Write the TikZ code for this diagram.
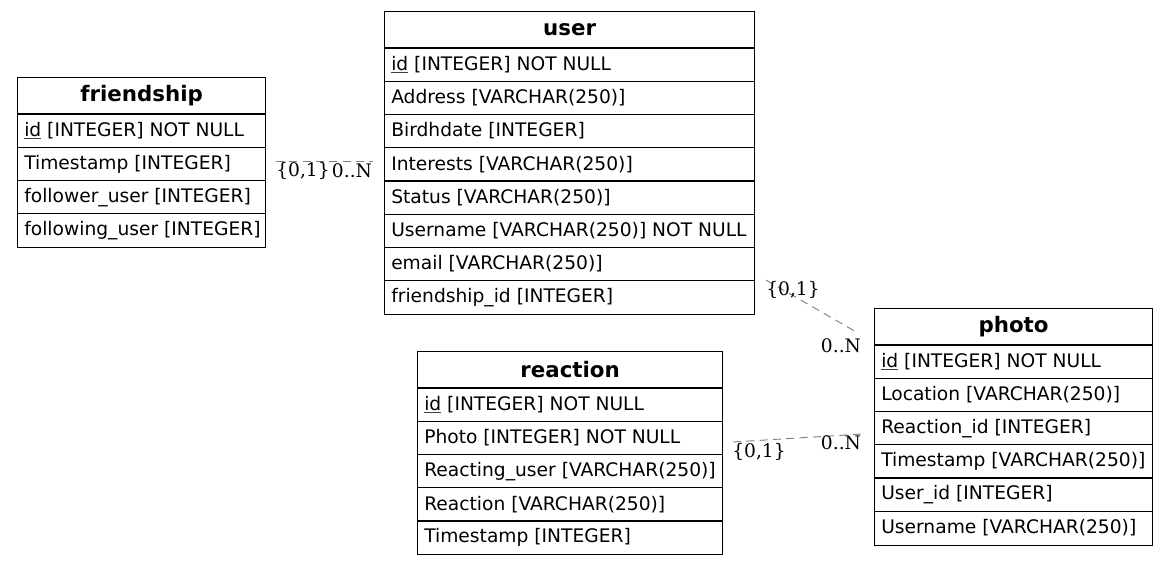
\documentclass[tikz,border=0pt]{standalone}
\usepackage{fontspec}
\setmainfont{DejaVu Sans}
\newfontfamily\lblfont{DejaVu Serif}
\usetikzlibrary{calc}
\newcommand\pkey[1]{{\color{darkgray}\underline{\color{black}#1}}}
\tikzset{
  tbox/.style={draw=black, line width=0.9pt, inner sep=0pt, fill=white},
  hdr/.style={inner sep=0pt, font=\fontsize{16}{19}\selectfont\bfseries},
  rowtxt/.style={inner sep=0pt, anchor=west, font=\fontsize{14}{17}\selectfont},
  hsep/.style={line width=1.5pt},
  rsep/.style={line width=1.1pt},
  conn/.style={draw=gray, line width=0.7pt, dash pattern=on 6pt off 4pt},
  lbl/.style={inner sep=0pt, font=\lblfont\fontsize{14}{17}\selectfont}
}
\newcommand\ertable[7]{%
  \node[tbox, anchor=north west, minimum width=#4*0.75pt, minimum height={(37+33.25*#6)*0.75pt}] (#1) at (#2,#3) {};
  \node[hdr] (#1-title) at ($(#1.north)+(0,18.5)$) {#5};
  \draw[hsep] ($(#1.north west)+(0,37)$) -- ++(#4,0);
  \foreach \t [count=\i] in {#7} {
    \node[rowtxt] (#1-\i) at ($(#1.north west)+(7,{37+33.25*(\i-0.5)})$) {\t};
    \ifnum\i>1 \draw[rsep] ($(#1.north west)+(0,{37+33.25*(\i-1)})$) -- ++(#4,0);\fi
  }
}
\begin{document}
\begin{tikzpicture}[x=0.75pt, y=-0.75pt]
\useasboundingbox (0,0) rectangle (1168,565);
\ertable{friendship}{17}{77}{248}{friendship}{4}{{\pkey{id} [INTEGER] NOT NULL},{Timestamp [INTEGER]},{follower\_user [INTEGER]},{following\_user [INTEGER]}}
\ertable{user}{384}{11}{370}{user}{8}{{\pkey{id} [INTEGER] NOT NULL},{Address [VARCHAR(250)]},{Birdhdate [INTEGER]},{Interests [VARCHAR(250)]},{Status [VARCHAR(250)]},{Username [VARCHAR(250)] NOT NULL},{email [VARCHAR(250)]},{friendship\_id [INTEGER]}}
\ertable{reaction}{417}{351}{305}{reaction}{5}{{\pkey{id} [INTEGER] NOT NULL},{Photo [INTEGER] NOT NULL},{Reacting\_user [VARCHAR(250)]},{Reaction [VARCHAR(250)]},{Timestamp [INTEGER]}}
\ertable{photo}{874}{308}{278}{photo}{6}{{\pkey{id} [INTEGER] NOT NULL},{Location [VARCHAR(250)]},{Reaction\_id [INTEGER]},{Timestamp [VARCHAR(250)]},{User\_id [INTEGER]},{Username [VARCHAR(250)]}}
% connector ends
\coordinate (e1s) at (276,161);
\coordinate (e1t) at (373,161);
\coordinate (e2s) at (766,280);
\coordinate (e2t) at (858,333);
\coordinate (e3s) at (733,442);
\coordinate (e3t) at (862,434);
\draw[conn] (e1s) -- (e1t);
\draw[conn] (e2s) -- (e2t);
\draw[conn] (e3s) -- (e3t);
\node[lbl] (l1a) at (303,171) {\{0,1\}};
\node[lbl] (l1b) at (352,171) {0..N};
\node[lbl] (l2a) at (793,290) {\{0,1\}};
\node[lbl] (l2b) at (841,346) {0..N};
\node[lbl] (l3a) at (759,452) {\{0,1\}};
\node[lbl] (l3b) at (841,443) {0..N};
\end{tikzpicture}
\end{document}
